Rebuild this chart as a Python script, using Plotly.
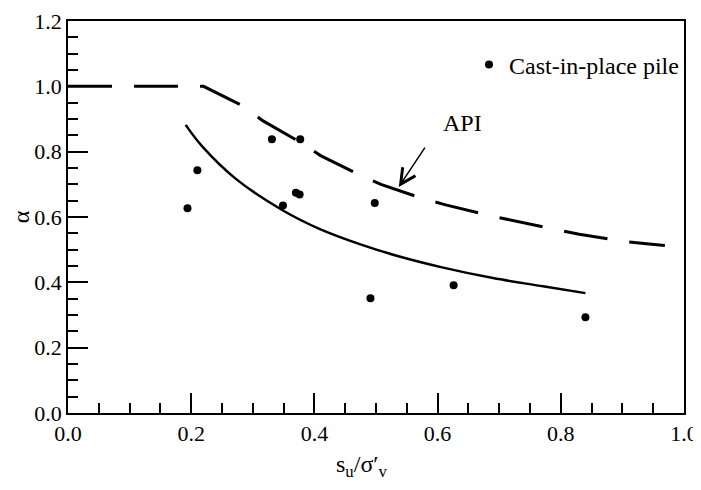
import plotly.graph_objects as go

# Data
pile_x = [0.194, 0.210, 0.331, 0.377, 0.370, 0.376, 0.349, 0.498, 0.491, 0.626, 0.840]
pile_alpha = [0.627, 0.743, 0.838, 0.838, 0.674, 0.669, 0.635, 0.643, 0.351, 0.391, 0.293]

fit_x = [0.191, 0.2175, 0.273, 0.349, 0.409, 0.4735, 0.538, 0.609, 0.690, 0.771, 0.840]
fit_alpha = [0.882, 0.817, 0.716, 0.620, 0.563, 0.517, 0.479, 0.445, 0.413, 0.388, 0.367]

api_x = [0.0, 0.22, 0.284, 0.316, 0.376, 0.410, 0.474, 0.508, 0.575, 0.613, 0.683,
         0.721, 0.749, 0.790, 0.830, 0.900, 0.939, 0.969]
api_alpha = [1.0, 1.0, 0.94, 0.895, 0.830, 0.788, 0.728, 0.700, 0.657, 0.637, 0.605,
             0.589, 0.578, 0.562, 0.547, 0.526, 0.518, 0.513]

tick_vals_x = [0.0, 0.2, 0.4, 0.6, 0.8, 1.0]
tick_vals_y = [0.0, 0.2, 0.4, 0.6, 0.8, 1.0, 1.2]

FONT = "Liberation Serif, Times New Roman, serif"
FS = 24      # legend / labels
TFS = 22     # tick labels

# The page body has an 8px margin; size the figure so the plot lands where it should.
OFF = 8
W, H = 701 - OFF, 490 - OFF
L, R, T, B = 68 - OFF, 17, 13, 77
PW, PH = W - L - R, H - T - B
BOT_SCREEN = H - B + OFF  # screen y of plot bottom (413)

fig = go.Figure()

fig.add_trace(go.Scatter(
    x=api_x, y=api_alpha, mode="lines", showlegend=False,
    line=dict(color="black", width=3, dash="44px,22px"),
))
fig.add_trace(go.Scatter(
    x=fit_x, y=fit_alpha, mode="lines", showlegend=False,
    line=dict(color="black", width=2.5, shape="spline", smoothing=1.0),
))
fig.add_trace(go.Scatter(
    x=pile_x, y=pile_alpha, mode="markers", name="Cast-in-place pile",
    marker=dict(color="black", size=8), showlegend=True,
))

fig.add_annotation(
    x=0.537, y=0.692, ax=0.581, ay=0.817, xref="x", yref="y", axref="x", ayref="y",
    text="", showarrow=True, arrowhead=5, arrowsize=2.0, arrowwidth=1.5, arrowcolor="black",
)
fig.add_annotation(
    x=0.641, y=0.887, xref="x", yref="y", text="API", showarrow=False,
    font=dict(family=FONT, size=FS, color="black"),
)
# x-axis title (screen position ~ (362, 466))
fig.add_annotation(
    x=(362 - 68) / PW, y=-(466 - BOT_SCREEN) / PH, xref="paper", yref="paper",
    xanchor="center", yanchor="middle", showarrow=False,
    text="s<sub>u</sub>/σ′<sub>v</sub>", font=dict(family=FONT, size=FS, color="black"),
)

axis_common = dict(
    showgrid=False, zeroline=False, showline=True, linecolor="black", linewidth=1.5,
    mirror=True, ticks="inside", ticklen=20, tickwidth=1.5, tickcolor="black",
    tickformat=".1f", tickfont=dict(family=FONT, size=TFS, color="black"),
    automargin=False, ticklabeloverflow="allow",
)

fig.update_xaxes(
    range=[0, 1.0], tickvals=tick_vals_x,
    minor=dict(dtick=0.05, ticks="inside", ticklen=10, tickwidth=1.5, tickcolor="black"),
    **axis_common,
)
fig.update_yaxes(
    range=[0, 1.2], tickvals=tick_vals_y,
    minor=dict(dtick=0.05, ticks="inside", ticklen=10, tickwidth=1.5, tickcolor="black"),
    title=dict(text="α", font=dict(family=FONT, size=FS, color="black"), standoff=27),
    **axis_common,
)

fig.update_layout(
    width=W, height=H,
    margin=dict(l=L, r=R, t=T, b=B, autoexpand=False),
    paper_bgcolor="white", plot_bgcolor="white",
    legend=dict(x=1.0, y=(BOT_SCREEN - 65) / PH, xanchor="right", yanchor="middle",
                bgcolor="rgba(0,0,0,0)", borderwidth=0,
                font=dict(family=FONT, size=FS, color="black"),
                itemwidth=30),
)

fig.write_html("out.html")
